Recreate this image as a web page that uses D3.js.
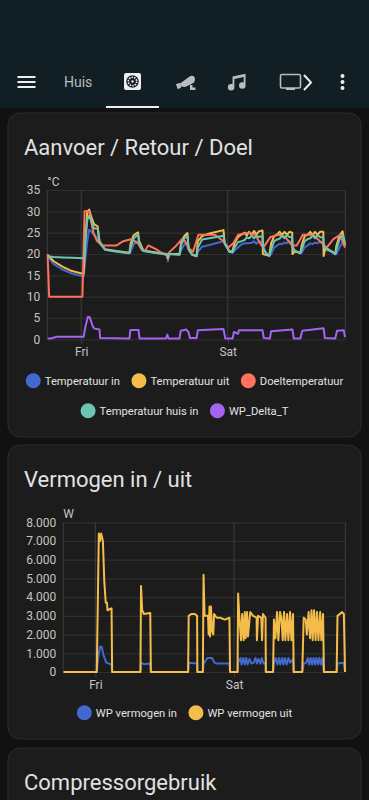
<!DOCTYPE html>
<html>
<head>
<meta charset="utf-8">
<script src="https://cdn.jsdelivr.net/npm/d3@7"></script>
<style>
  html, body { margin: 0; background: #111111; overflow: hidden; }
  svg { display: block; font-family: Roboto, sans-serif; }
</style>
</head>
<body>
<div id="page"></div>
<script>
// x values are hours since the start of Friday
const dayTicks = [0, 24]
const dayLabels = ['Fri', 'Sat']
const hourDomain = [-5.55, 43.25]

const tempTicks = [0, 5, 10, 15, 20, 25, 30, 35]
const powerTicks = [0, 1000, 2000, 3000, 4000, 5000, 6000, 7000, 8000]

const tempNames = ['Temperatuur in', 'Temperatuur uit', 'Doeltemperatuur', 'Temperatuur huis in', 'WP_Delta_T']
const powerNames = ['WP vermogen in', 'WP vermogen uit']

// shared hours for the in / uit / huis in lines
const tempHours = [-5.5, -4.5, -3, -1.5, 0.4, 0.7, 1, 1.3, 1.7, 2.1, 2.7, 3, 3.9, 5.8, 7.9, 8.1, 8.6, 9.3, 9.5, 10.2, 12, 14, 14.2, 14.4, 16.1, 16.4, 16.9, 17.4, 17.6, 18.2, 18.9, 19.1, 19.8, 21, 23.3, 23.5, 24.3, 24.8, 25.1, 25.7, 26.3, 26.8, 27.1, 27.5, 27.9, 28.3, 28.7, 29.1, 29.7, 29.75, 30.2, 30.8, 31.1, 31.6, 32.1, 32.5, 32.9, 33.3, 33.7, 34.1, 34.55, 34.6, 35, 35.9, 36.1, 36.6, 37.1, 37.5, 37.9, 38.3, 38.7, 39.1, 39.65, 39.7, 40, 41, 41.6, 41.8, 42.3, 42.8, 43.2]
const tempIn = [19.5, 17.6, 16.3, 15.4, 14.7, 19, 23, 25.7, 25.2, 24.5, 23.7, 22.8, 21, 20.5, 20.1, 20.5, 22.3, 23, 22.5, 20.7, 20.3, 19.9, 18.3, 20, 19.8, 21, 22.3, 22.7, 21.5, 19.8, 19.4, 20.5, 21.7, 22.1, 23, 22.5, 20.5, 20.3, 20.8, 21.6, 22.3, 22.5, 22.5, 22.6, 22.6, 23, 22.4, 23, 22.8, 22, 20.5, 19.5, 20, 21.5, 22, 22.4, 22.3, 22.7, 22.5, 23, 22.8, 22, 20.7, 20.1, 20.3, 21.6, 22, 22.5, 22.3, 22.7, 22.5, 22.9, 22.5, 21.8, 21, 20.5, 19.9, 20, 21.5, 22.8, 21.8]
const tempOut = [19.8, 18.3, 17, 16, 15.3, 24, 30, 30.4, 28.5, 27, 26.5, 23, 21.1, 20.7, 20.3, 22.5, 24.4, 25.1, 23, 20.8, 20.4, 20, 19, 20, 20, 23, 24.2, 24.9, 21, 19.8, 19.6, 23, 24.2, 24.8, 25.6, 22.5, 20.5, 20.8, 22.5, 24, 24.6, 25, 24.3, 25.2, 24.5, 25.4, 24.6, 25.3, 25.5, 20, 19.8, 19.6, 22.5, 24.2, 24.6, 25.2, 24.5, 25.2, 24.5, 25.2, 25, 20, 20.6, 20.3, 22, 24.2, 24.5, 25.2, 24.5, 25.2, 24.5, 25.2, 25.2, 19.5, 21.5, 20.6, 20.1, 22, 24.3, 25.3, 22]
const tempHouse = [19.5, 19.3, 19.2, 19.1, 19, 23, 28, 29, 27.5, 26, 26, 22.6, 21, 20.6, 20.2, 21.5, 23.7, 24.5, 22.5, 20.7, 20.3, 19.9, 19.5, 20, 19.8, 22.3, 23.7, 24.2, 21, 19.8, 19.5, 21.5, 23.4, 23.7, 24.3, 22.4, 20.5, 20.4, 21.5, 22.8, 23, 23.3, 23.9, 23.7, 24.3, 23.7, 24.3, 24, 24.2, 21.5, 20.3, 19.6, 21, 23, 23.4, 23.6, 24.3, 23.7, 24.4, 24, 24, 21.5, 20.8, 20.2, 21, 23, 23.5, 23.7, 24.3, 23.7, 24.4, 24, 23.8, 21.8, 21.3, 20.6, 20, 21, 23.4, 24.5, 22.5]

const targetHours = [-5.5, -5.25, 0.2, 0.55, 1.3, 2, 2.6, 3.1, 3.6, 5.8, 6.9, 8.3, 9.3, 9.9, 10.4, 11, 12.4, 12.9, 14, 14.5, 15.6, 16.5, 17, 17.5, 18.3, 19.2, 20.8, 21.9, 23.3, 24.1, 24.9, 25.7, 27.4, 28.5, 29.3, 29.8, 31, 32.3, 33.4, 34.5, 35.3, 36.3, 38, 39.1, 40.2, 41.3, 42.4, 43.2]
const target = [20, 10, 10, 30, 30, 25, 23, 22.5, 22, 22, 23, 23.5, 22.5, 21, 20.7, 22, 21, 20.5, 19.7, 20.5, 22, 23.5, 23, 21.5, 20.5, 24.5, 24.5, 24.5, 23, 21.5, 22.5, 24.5, 25, 24.5, 22.5, 21.5, 24, 24.5, 24, 22, 22, 24.5, 24.5, 23, 21.5, 23.5, 24.5, 21.5]

const deltaHours = [-5.5, -5, -4, 0.4, 0.7, 1.1, 1.4, 1.9, 2.2, 3, 3.1, 7.9, 8.05, 9.4, 9.55, 13.9, 14.1, 14.3, 16.1, 16.3, 17.2, 17.6, 17.8, 18.9, 19.1, 23.3, 23.6, 24.8, 25, 25.7, 25.8, 29.7, 29.9, 30.9, 31.1, 34.6, 34.8, 35.9, 36.2, 39.7, 39.9, 41.6, 41.9, 43, 43.2]
const delta = [0.2, 0.2, 0.6, 0.6, 3, 5.3, 5.2, 3, 2.5, 2.3, 0.3, 0.2, 2.2, 2.2, 0.2, 0.2, 1.1, 0.2, 0.2, 2, 2.3, 1.6, 0.3, 0.3, 2.1, 2.4, 0.2, 0.2, 1.7, 1.3, 2.1, 2.1, 0.3, 0.2, 1.9, 2.3, 0.2, 0.2, 2, 2.6, 0.3, 0.2, 2, 2.1, 0.5]

const powerOutHours = [-5.5, 0.24, 0.6, 0.8, 1, 1.3, 1.55, 1.8, 2, 2.1, 2.8, 2.9, 7.8, 7.9, 8.1, 8.4, 9.5, 9.6, 16.05, 16.15, 16.6, 17.2, 17.6, 17.65, 18.6, 18.72, 18.9, 19.5, 19.6, 19.75, 19.85, 20, 20.1, 20.2, 20.4, 20.55, 21, 21.6, 22.4, 23.2, 23.3, 24.6, 24.7, 24.9, 25.2, 25.4, 25.65, 25.85, 26, 26.25, 26.4, 26.8, 27.3, 27.9, 27.95, 28.15, 28.7, 28.85, 29, 29.45, 29.5, 30.75, 30.9, 31.15, 31.44, 31.67, 31.96, 32.19, 32.42, 32.65, 32.88, 33.17, 33.4, 33.69, 33.92, 34.2, 34.32, 35.8, 36.05, 36.4, 36.6, 36.9, 37.15, 37.4, 37.6, 37.85, 38.1, 38.35, 38.6, 38.9, 39.1, 39.4, 39.55, 41.75, 41.9, 42.7, 43, 43.2]
const powerOut = [0, 0, 7400, 7000, 7400, 7000, 4800, 3700, 3700, 3300, 3400, 0, 0, 4600, 3300, 3100, 3150, 0, 0, 3000, 3100, 3100, 3000, 0, 0, 5200, 3000, 3000, 2000, 3500, 1900, 3500, 2900, 2200, 2000, 3100, 2900, 2900, 2800, 2900, 0, 0, 4200, 3000, 1700, 3100, 1700, 3200, 1800, 3200, 1900, 3200, 3000, 2900, 1700, 3000, 2900, 1700, 3100, 2900, 0, 0, 2800, 1800, 3200, 1700, 3200, 2900, 1700, 3200, 1700, 3100, 1700, 3200, 1700, 3100, 0, 0, 2900, 2800, 2000, 3200, 1800, 3300, 1700, 3300, 1700, 3200, 1700, 3200, 1700, 3100, 0, 0, 3000, 3200, 3100, 0]

const powerInHours = [-5.5, 0.24, 0.5, 0.8, 1.1, 1.4, 1.9, 2.8, 2.9, 7.8, 7.9, 8.4, 9.5, 9.6, 16.05, 16.15, 17.6, 17.65, 18.6, 18.72, 19.4, 19.6, 20.2, 20.6, 21, 23.2, 23.3, 24.6, 24.7, 25.1, 25.3, 25.6, 25.85, 26.1, 26.35, 26.7, 27, 27.4, 27.7, 27.95, 28.2, 28.55, 28.8, 29.1, 29.45, 29.5, 30.75, 30.9, 31.2, 31.5, 31.75, 32, 32.3, 32.55, 32.8, 33.1, 33.4, 33.7, 34.2, 34.32, 35.8, 36.05, 36.5, 36.75, 37, 37.25, 37.5, 37.75, 38, 38.25, 38.5, 38.75, 39, 39.25, 39.55, 41.75, 41.9, 43, 43.2]
const powerIn = [0, 0, 800, 1350, 1350, 900, 500, 400, 0, 0, 500, 420, 450, 0, 0, 500, 450, 0, 0, 450, 750, 750, 750, 500, 450, 450, 0, 0, 500, 750, 400, 750, 400, 750, 400, 700, 450, 500, 750, 450, 700, 450, 750, 450, 500, 0, 0, 450, 750, 400, 750, 400, 750, 400, 750, 400, 750, 500, 700, 0, 0, 450, 500, 750, 400, 750, 400, 750, 400, 750, 400, 750, 400, 750, 0, 0, 450, 500, 0]

const colors = ['#4269d0', '#f4bd4a', '#ff725c', '#6cc5b0', '#a463f2']
const textColor = '#e1e1e1'
const tickColor = '#c4c4c4'
const gridColor = '#2f2f2f'
const axisColor = '#3d3d3d'

const dotted = d3.formatLocale({ decimal: ',', thousands: '.', grouping: [3], currency: ['', ''] }).format(',')

const svg = d3.select('#page').append('svg')
  .attr('width', 369)
  .attr('height', 800)
  .attr('viewBox', '0 0 369 800')

const drawHeader = () => {
  const g = svg.append('g')
  g.append('rect').attr('width', 369).attr('height', 108).attr('fill', '#111e24')
  g.append('rect').attr('x', 106).attr('y', 106).attr('width', 53).attr('height', 2).attr('fill', '#eeeeee')

  const icon = (x, y, scale, d, fill = '#b9bdbf') => g.append('path')
    .attr('transform', `translate(${x},${y}) scale(${scale})`)
    .attr('d', d)
    .attr('fill', fill)

  icon(14.5, 70, 1, 'M3,6H21V8H3V6M3,11H21V13H3V11M3,16H21V18H3V16Z', '#eeeeee')
  g.append('text').attr('x', 64).attr('y', 87).attr('font-size', 14).attr('fill', '#b9bdbf').text('Huis')

  // selected tab icon
  g.append('rect').attr('x', 124).attr('y', 73).attr('width', 17).attr('height', 17).attr('rx', 2).attr('fill', '#eeeeee')
  g.append('circle').attr('cx', 132.5).attr('cy', 81.5).attr('r', 6.2).attr('fill', '#111e24')
  g.append('circle').attr('cx', 132.5).attr('cy', 81.5).attr('r', 4.2).attr('fill', 'none').attr('stroke', '#eeeeee').attr('stroke-width', 1.6).attr('stroke-dasharray', '1.6 1')
  g.append('circle').attr('cx', 132.5).attr('cy', 81.5).attr('r', 1.2).attr('fill', '#eeeeee')

  // camera
  icon(176, 74, 1, 'M4,9.5 L13,3 Q16,0.5 18.5,3 L19,5.5 Q19,8.5 16.5,9.5 L9,13 L5,12.5 Z M0,10 L4,9 L5,14 L1.5,15 Z M14,11 H16.5 V13.5 H19.5 V16 H14 Z')

  icon(226, 71, 0.93, 'M21,3V15.5A3.5,3.5 0 0,1 17.5,19A3.5,3.5 0 0,1 14,15.5A3.5,3.5 0 0,1 17.5,12C18.04,12 18.55,12.12 19,12.34V6.47L9,8.6V17.5A3.5,3.5 0 0,1 5.5,21A3.5,3.5 0 0,1 2,17.5A3.5,3.5 0 0,1 5.5,14C6.04,14 6.55,14.12 7,14.34V6L21,3Z')

  // tv and scroll chevron
  g.append('rect').attr('x', 280.5).attr('y', 74.5).attr('width', 20).attr('height', 13.5).attr('rx', 1.5).attr('fill', 'none').attr('stroke', '#b9bdbf').attr('stroke-width', 1.6)
  g.append('rect').attr('x', 286).attr('y', 88).attr('width', 9).attr('height', 2).attr('fill', '#b9bdbf')
  g.append('path').attr('d', 'M304,75 L311,82.5 L304,90').attr('fill', 'none').attr('stroke', '#eeeeee').attr('stroke-width', 2)

  icon(330.5, 70, 1, 'M12,16A2,2 0 0,1 14,18A2,2 0 0,1 12,20A2,2 0 0,1 10,18A2,2 0 0,1 12,16M12,10A2,2 0 0,1 14,12A2,2 0 0,1 12,14A2,2 0 0,1 10,12A2,2 0 0,1 12,10M12,4A2,2 0 0,1 14,6A2,2 0 0,1 12,8A2,2 0 0,1 10,6A2,2 0 0,1 12,4Z', '#eeeeee')
}

const drawCard = (top, height, title, baseline) => {
  svg.append('rect')
    .attr('x', 8).attr('y', top)
    .attr('width', 353).attr('height', height)
    .attr('rx', 12)
    .attr('fill', '#1c1c1c')
    .attr('stroke', '#2c2c2c')
  svg.append('text')
    .attr('x', 24).attr('y', baseline)
    .attr('font-size', 22)
    .attr('fill', textColor)
    .text(title)
}

const drawChart = ({ left, top, bottom, yTicks, yFormat, unit, lines }) => {
  const right = 345.3
  const x = d3.scaleLinear().domain(hourDomain).range([left, right])
  const y = d3.scaleLinear().domain(d3.extent(yTicks)).range([bottom, top])
  const g = svg.append('g')

  const yAxis = g.append('g')
    .attr('transform', `translate(${left},0)`)
    .call(d3.axisLeft(y).tickValues(yTicks).tickFormat(yFormat).tickSize(-(right - left)).tickPadding(7))
  yAxis.select('.domain').remove()
  yAxis.selectAll('line').attr('stroke', gridColor).attr('stroke-width', 1.2)
  yAxis.selectAll('text').attr('fill', tickColor).attr('font-size', 12).attr('font-family', 'Roboto')

  const xAxis = g.append('g')
    .attr('transform', `translate(0,${bottom})`)
    .call(d3.axisBottom(x).tickValues(dayTicks).tickFormat((d, i) => dayLabels[i]).tickSize(5).tickPadding(3))
  xAxis.select('.domain').remove()
  xAxis.selectAll('line').attr('stroke', axisColor)
  xAxis.selectAll('text').attr('fill', tickColor).attr('font-size', 12).attr('font-family', 'Roboto')

  g.selectAll('line.v')
    .data([...dayTicks.map(x), left, right])
    .enter()
    .append('line')
    .attr('class', 'v')
    .attr('x1', d => d)
    .attr('x2', d => d)
    .attr('y1', top)
    .attr('y2', bottom)
    .attr('stroke', axisColor)

  g.append('text')
    .attr('x', left)
    .attr('y', top - 4)
    .attr('font-size', 12)
    .attr('fill', tickColor)
    .text(unit)

  const line = d3.line().x(d => x(d[0])).y(d => y(d[1])).curve(d3.curveLinear)
  lines.forEach(l => {
    g.append('path')
      .datum(d3.zip(l.hours, l.values))
      .attr('d', line)
      .attr('fill', 'none')
      .attr('stroke', l.color)
      .attr('stroke-width', 2)
      .attr('stroke-linejoin', 'round')
  })
}

// centred rows, like the flex-wrapped legend it copies
const drawLegend = (rows, rowY) => {
  rows.forEach((row, r) => {
    const g = svg.append('g').attr('transform', `translate(0,${rowY[r]})`)
    let pos = 0
    row.forEach(item => {
      const it = g.append('g').attr('transform', `translate(${pos},0)`)
      it.append('circle').attr('cx', 7.5).attr('r', 7.5).attr('fill', item.color)
      const t = it.append('text')
        .attr('x', 19)
        .attr('dy', '0.35em')
        .attr('font-size', 11.2)
        .attr('fill', textColor)
        .text(item.name)
      pos += 19 + t.node().getComputedTextLength() + 11.5
    })
    g.attr('transform', `translate(${184.5 - (pos - 11.5) / 2},${rowY[r]})`)
  })
}

drawHeader()

drawCard(113, 324, 'Aanvoer / Retour / Doel', 155)
drawChart({
  left: 47.3,
  top: 190,
  bottom: 339.3,
  yTicks: tempTicks,
  yFormat: d3.format('d'),
  unit: '°C',
  lines: [
    { hours: tempHours, values: tempIn, color: colors[0] },
    { hours: tempHours, values: tempOut, color: colors[1] },
    { hours: targetHours, values: target, color: colors[2] },
    { hours: tempHours, values: tempHouse, color: colors[3] },
    { hours: deltaHours, values: delta, color: colors[4] }
  ]
})
const tempLegend = tempNames.map((name, i) => ({ name, color: colors[i] }))
drawLegend([tempLegend.slice(0, 3), tempLegend.slice(3)], [380.7, 410.7])

drawCard(445, 294, 'Vermogen in / uit', 487)
drawChart({
  left: 63.3,
  top: 522.3,
  bottom: 672,
  yTicks: powerTicks,
  yFormat: dotted,
  unit: 'W',
  lines: [
    { hours: powerInHours, values: powerIn, color: colors[0] },
    { hours: powerOutHours, values: powerOut, color: colors[1] }
  ]
})
drawLegend([powerNames.map((name, i) => ({ name, color: colors[i] }))], [712.7])

drawCard(748, 80, 'Compressorgebruik', 790)
</script>
</body>
</html>
